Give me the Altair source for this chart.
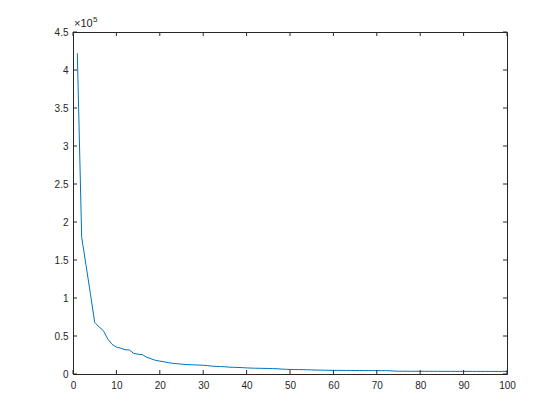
import altair as alt
import pandas as pd

xs = list(range(1, 101))
ys = [
    422000, 180000, 143000, 106000, 68000, 62000, 57000, 46000, 39000, 35500,
    34000, 32000, 31500, 27000, 26000, 25500, 22000, 20000, 18000, 17000,
    16000, 15000, 14000, 13500, 13000, 12500, 12200, 12000, 11800, 11500,
    11000, 10400, 10000, 9800, 9500, 9000, 8800, 8600, 8400, 8000,
    7800, 7600, 7500, 7400, 7300, 7100, 6900, 6500, 6200, 6000,
    5900, 5800, 5700, 5600, 5400, 5200, 5100, 5000, 4900, 4800,
    4750, 4700, 4700, 4650, 4600, 4600, 4550, 4500, 4500, 4450,
    4400, 4400, 4300, 3800, 3700, 3650, 3600, 3600, 3580, 3560,
    3550, 3540, 3530, 3520, 3500, 3500, 3480, 3470, 3460, 3450,
    3440, 3430, 3420, 3410, 3400, 3390, 3380, 3370, 3360, 3350,
]
x_ticks = [0, 10, 20, 30, 40, 50, 60, 70, 80, 90, 100]
y_ticks = [0, 50000, 100000, 150000, 200000, 250000, 300000, 350000, 400000, 450000]

W, H = 434, 342
FONT = "Liberation Sans"
AX = "#262626"
TL = 4

df = pd.DataFrame({"x": xs, "y": ys})
xt = pd.DataFrame({"x": x_ticks})
yt = pd.DataFrame({"y": y_ticks})

xscale = alt.Scale(domain=[0, 100], nice=False)
yscale = alt.Scale(domain=[0, 450000], nice=False)

xaxis = alt.Axis(values=x_ticks, title=None, tickSize=0, labelPadding=6, grid=False,
                 labelFlush=False, labelOverlap=False,
                 domainColor=AX, labelColor=AX, labelFont=FONT, labelFontSize=10)
yaxis = alt.Axis(values=y_ticks, title=None, tickSize=0, labelPadding=5, grid=False,
                 labelFlush=False, labelOverlap=False,
                 domainColor=AX, labelColor=AX, labelFont=FONT, labelFontSize=10,
                 labelExpr="format(datum.value / 100000, '~g')")
X = alt.X("x:Q", scale=xscale, axis=xaxis)
Y = alt.Y("y:Q", scale=yscale, axis=yaxis)

line = alt.Chart(df).mark_line(color="#0072BD", strokeWidth=1).encode(x=X, y=Y)

xb = alt.Chart(xt).mark_rule(color=AX, strokeWidth=1).encode(
    x=X, y=alt.value(H), y2=alt.value(H - TL))
xtop = alt.Chart(xt).mark_rule(color=AX, strokeWidth=1).encode(
    x=X, y=alt.value(0), y2=alt.value(TL))
yl = alt.Chart(yt).mark_rule(color=AX, strokeWidth=1).encode(
    y=Y, x=alt.value(0), x2=alt.value(TL))
yr = alt.Chart(yt).mark_rule(color=AX, strokeWidth=1).encode(
    y=Y, x=alt.value(W), x2=alt.value(W - TL))

one = pd.DataFrame({"a": [0]})
exp1 = alt.Chart(one).mark_text(align="left", baseline="alphabetic", font=FONT,
                                fontSize=11, color=AX).encode(
    x=alt.value(1), y=alt.value(-5), text=alt.value("×10"))
exp2 = alt.Chart(one).mark_text(align="left", baseline="alphabetic", font=FONT,
                                fontSize=8, color=AX).encode(
    x=alt.value(20), y=alt.value(-10), text=alt.value("5"))

chart = alt.layer(line, xb, xtop, yl, yr, exp1, exp2).properties(
    width=W, height=H,
    autosize=alt.AutoSizeParams(type="none"),
    padding={"left": 65, "top": 24, "right": 30, "bottom": 30},
    background="white",
).configure_view(stroke=AX, strokeWidth=1)

chart.save("out.html", embed_options={"renderer": "svg", "actions": False})
